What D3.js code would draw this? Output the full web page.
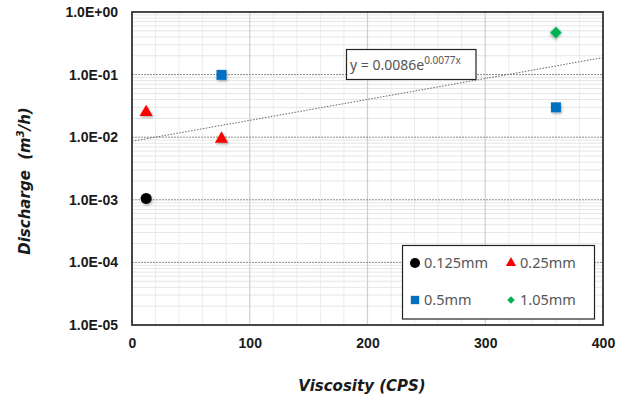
<!DOCTYPE html>
<html><head><meta charset="utf-8">
<script src="https://cdn.jsdelivr.net/npm/d3@7"></script>
<style>body{margin:0;background:#fff}svg{display:block}</style>
</head><body>
<svg id="c" width="626" height="398"></svg>
<script>
const series = ["0.125mm","0.25mm","0.5mm","1.05mm"];
const s0125 = [{x:12,y:0.00105}];
const s025 = [{x:12,y:0.025},{x:76,y:0.0094}];
const s05 = [{x:76,y:0.099},{x:360,y:0.03}];
const s105 = [{x:360,y:0.47}];
const trendA = 0.0086, trendB = 0.0077;
const yTicks = [1,0.1,0.01,0.001,0.0001,0.00001];
const yTickLabels = ["1.0E+00","1.0E-01","1.0E-02","1.0E-03","1.0E-04","1.0E-05"];
const xTicks = [0,100,200,300,400];

const svg = d3.select("#c");
const defs = svg.append("defs");
const f = defs.append("filter").attr("id","sh").attr("x","-50%").attr("y","-50%").attr("width","200%").attr("height","200%");
f.append("feDropShadow").attr("dx",1).attr("dy",1.5).attr("stdDeviation",1.2).attr("flood-color","#000").attr("flood-opacity",0.3);

const L=132,R=603,T=12,B=325;
const x = d3.scaleLinear().domain([0,400]).range([L,R]);
const y = d3.scaleLog().domain([1e-5,1]).range([B,T]);
const g = svg.append("g");

// vertical minor grid
d3.range(20,400,20).filter(v=>v%100!==0).forEach(v=>{
  g.append("line").attr("x1",x(v)).attr("x2",x(v)).attr("y1",T).attr("y2",B).attr("stroke","#ececec").attr("stroke-width",1);
});
// horizontal minor grid
for(let e=-5;e<0;e++){for(let m=2;m<10;m++){const v=m*Math.pow(10,e);
  g.append("line").attr("x1",L).attr("x2",R).attr("y1",y(v)).attr("y2",y(v)).attr("stroke","#e6e6e6").attr("stroke-width",1);}}
// vertical major grid
[100,200,300].forEach(v=>{
  g.append("line").attr("x1",x(v)).attr("x2",x(v)).attr("y1",T).attr("y2",B).attr("stroke","#cfcfcf").attr("stroke-width",1.2);
});
// horizontal major grid
yTicks.slice(1,5).forEach(v=>{
  g.append("line").attr("x1",L).attr("x2",R).attr("y1",y(v)).attr("y2",y(v)).attr("stroke","#8c8c8c").attr("stroke-width",1).attr("stroke-dasharray","2,1");
});

// trendline
g.append("line").attr("x1",x(0)).attr("y1",y(trendA*Math.exp(trendB*0))).attr("x2",x(400)).attr("y2",y(trendA*Math.exp(trendB*400)))
 .attr("stroke","#666").attr("stroke-width",1).attr("stroke-dasharray","1.5,1.5");

// border
g.append("rect").attr("x",L).attr("y",T).attr("width",R-L).attr("height",B-T).attr("fill","none").attr("stroke","#333").attr("stroke-width",1.8);

// axes labels
const yAxis = d3.axisLeft(y).tickValues(yTicks).tickFormat((d,i)=>yTickLabels[i]).tickSize(0).tickPadding(14);
const ya = svg.append("g").attr("transform",`translate(${L},0)`).call(yAxis);
ya.select(".domain").remove();
ya.selectAll("text").attr("font-family","Liberation Sans, Arial").attr("font-weight","bold").attr("font-size",14).attr("fill","#1a1a1a");
const xAxis = d3.axisBottom(x).tickValues(xTicks).tickFormat(d3.format("d")).tickSize(0).tickPadding(13);
const xa = svg.append("g").attr("transform",`translate(0,${B})`).call(xAxis);
xa.select(".domain").remove();
xa.selectAll("text").attr("font-family","Liberation Sans, Arial").attr("font-weight","bold").attr("font-size",14).attr("fill","#1a1a1a");

// axis titles
svg.append("text").attr("x",362).attr("y",391).attr("text-anchor","middle").attr("font-family","DejaVu Sans, Verdana").attr("font-weight","bold").attr("font-style","italic").attr("font-size",15).attr("fill","#1a1a1a").text("Viscosity (CPS)");
const yt = svg.append("text").attr("transform","translate(30,181) rotate(-90)").attr("text-anchor","middle").attr("font-family","DejaVu Sans, Verdana").attr("font-weight","bold").attr("font-style","italic").attr("font-size",15).attr("fill","#1a1a1a").attr("xml:space","preserve");
yt.append("tspan").text("Discharge  (m");
yt.append("tspan").attr("font-size",10).attr("dy",-6).text("3");
yt.append("tspan").attr("dy",6).text("/h)");

// markers
const sym = {
  "0.125mm":{type:d3.symbolCircle,size:95,color:"#000000",rot:0},
  "0.25mm":{type:d3.symbolTriangle,size:75,color:"#ff0000",rot:0},
  "0.5mm":{type:d3.symbolSquare,size:100,color:"#0070c0",rot:0},
  "1.05mm":{type:d3.symbolSquare,size:72,color:"#00b050",rot:45}
};
const data = {"0.125mm":s0125,"0.25mm":s025,"0.5mm":s05,"1.05mm":s105};
series.forEach(s=>{
  g.selectAll(null).data(data[s]).enter().append("path")
   .attr("d",d3.symbol().type(sym[s].type).size(sym[s].size))
   .attr("transform",d=>`translate(${x(d.x)},${y(d.y)}) rotate(${sym[s].rot})`)
   .attr("fill",sym[s].color).attr("filter","url(#sh)");
});

// equation label
svg.append("rect").attr("x",346.5).attr("y",49.5).attr("width",129.5).attr("height",30).attr("fill","#fff").attr("stroke","#222").attr("stroke-width",1.2);
const eq = svg.append("text").attr("x",350).attr("y",70).attr("font-family","Noto Sans, Open Sans, sans-serif").attr("font-size",14).attr("fill","#555");
eq.append("tspan").text("y = 0.0086e");
eq.append("tspan").attr("font-size",10).attr("dy",-6).text("0.0077x");

// legend
svg.append("rect").attr("x",402.5).attr("y",245.5).attr("width",192).attr("height",73.5).attr("fill","#fff").attr("stroke","#222").attr("stroke-width",1.2);
const legPos = [[415,263],[511,263],[415,300],[511,300]];
const legSize = {"0.125mm":80,"0.25mm":45,"0.5mm":70,"1.05mm":28};
series.forEach((s,i)=>{
  const [lx,ly]=legPos[i];
  svg.append("path").attr("d",d3.symbol().type(sym[s].type).size(legSize[s])).attr("transform",`translate(${lx},${ly}) rotate(${sym[s].rot})`).attr("fill",sym[s].color);
  svg.append("text").attr("x",lx+9).attr("y",ly+5).attr("font-family","Noto Sans, Open Sans, sans-serif").attr("font-size",14.5).attr("fill","#555").text(s);
});
</script>
</body></html>
